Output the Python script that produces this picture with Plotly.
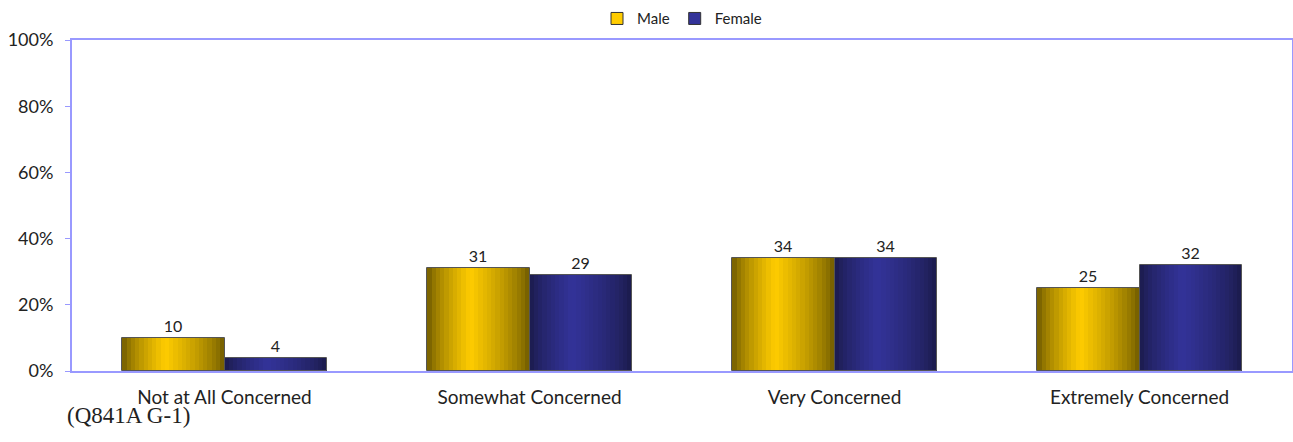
import plotly.graph_objects as go

# chart values
categories = ["Not at All Concerned", "Somewhat Concerned", "Very Concerned", "Extremely Concerned"]
male = [10, 31, 34, 25]
female = [4, 29, 34, 32]
footnote = "(Q841A G-1)"

FRAME = "#9999FF"
BAR_W = 0.335
SLICES = 24

# dark edge -> bright peak -> dark edge, to fake the cylinder shading
MALE_DARK = (0x6B, 0x57, 0x00)
MALE_PEAK = (0xFF, 0xCC, 0x00)
FEMALE_DARK = (0x1A, 0x1A, 0x48)
FEMALE_PEAK = (0x33, 0x33, 0x99)


def rgb(c):
    return "rgb({},{},{})".format(*c)


def shade(dark, peak, t, p=0.42):
    if t <= p:
        k = t / p
    else:
        k = 1 - (t - p) / (1 - p)
    k = k ** 0.7
    return rgb([round(d + (q - d) * k) for d, q in zip(dark, peak)])


def add_series(fig, name, values, start, dark, peak):
    step = BAR_W / SLICES
    for i in range(SLICES):
        t = (i + 0.5) / SLICES
        fig.add_trace(go.Bar(
            x=categories, y=values, width=step * 1.02, offset=start + i * step,
            marker=dict(color=shade(dark, peak, t), line=dict(width=0)),
            name=name, legendgroup=name, showlegend=False, hoverinfo="skip",
        ))
    # outline + value label on top
    fig.add_trace(go.Bar(
        x=categories, y=values, width=BAR_W, offset=start,
        marker=dict(color="rgba(0,0,0,0)", line=dict(color="#555555", width=1)),
        text=values, textposition="outside", cliponaxis=False,
        textfont=dict(size=16, color="#222222", family="Lato"),
        name=name, legendgroup=name, showlegend=False,
    ))
    # legend swatch
    fig.add_trace(go.Bar(
        x=[None], y=[None], name=name, legendgroup=name,
        marker=dict(color=rgb(peak), line=dict(color="#333333", width=1)),
    ))


fig = go.Figure()
add_series(fig, "Male", male, -BAR_W, MALE_DARK, MALE_PEAK)
add_series(fig, "Female", female, 0, FEMALE_DARK, FEMALE_PEAK)

fig.update_layout(
    width=1293, height=442,
    margin=dict(l=72, r=1, t=40, b=71, autoexpand=False),
    paper_bgcolor="white", plot_bgcolor="white",
    barmode="overlay", bargap=0,
    font=dict(family="Lato", color="#222222"),
    legend=dict(orientation="h", x=0.5, xanchor="center", yref="container", y=0.995, yanchor="top",
                bgcolor="rgba(0,0,0,0)", font=dict(size=15), itemwidth=30, tracegroupgap=0),
    showlegend=True,
)
fig.update_xaxes(
    showgrid=False, showline=True, linecolor=FRAME, linewidth=2, mirror=True,
    ticks="", tickfont=dict(size=19), ticklabelstandoff=8,
)
fig.update_yaxes(
    range=[0, 100], dtick=20, ticksuffix="%", showgrid=False, zeroline=False,
    showline=True, linecolor=FRAME, linewidth=2, mirror=True,
    ticks="outside", ticklen=5, tickcolor=FRAME, tickfont=dict(size=18),
    ticklabelstandoff=8,
)
fig.add_annotation(
    text=footnote, xref="paper", yref="paper", x=-0.006, y=-0.09,
    xanchor="left", yanchor="top", showarrow=False,
    font=dict(family="Liberation Serif", size=23, color="#222222"),
)

fig.write_html(
    "out.html",
    config={"displayModeBar": False},
    post_script="document.body.style.margin='0';"
    "document.body.style.overflow='hidden';"
    "Plotly.Plots.resize(document.getElementById('{plot_id}'));",
)
